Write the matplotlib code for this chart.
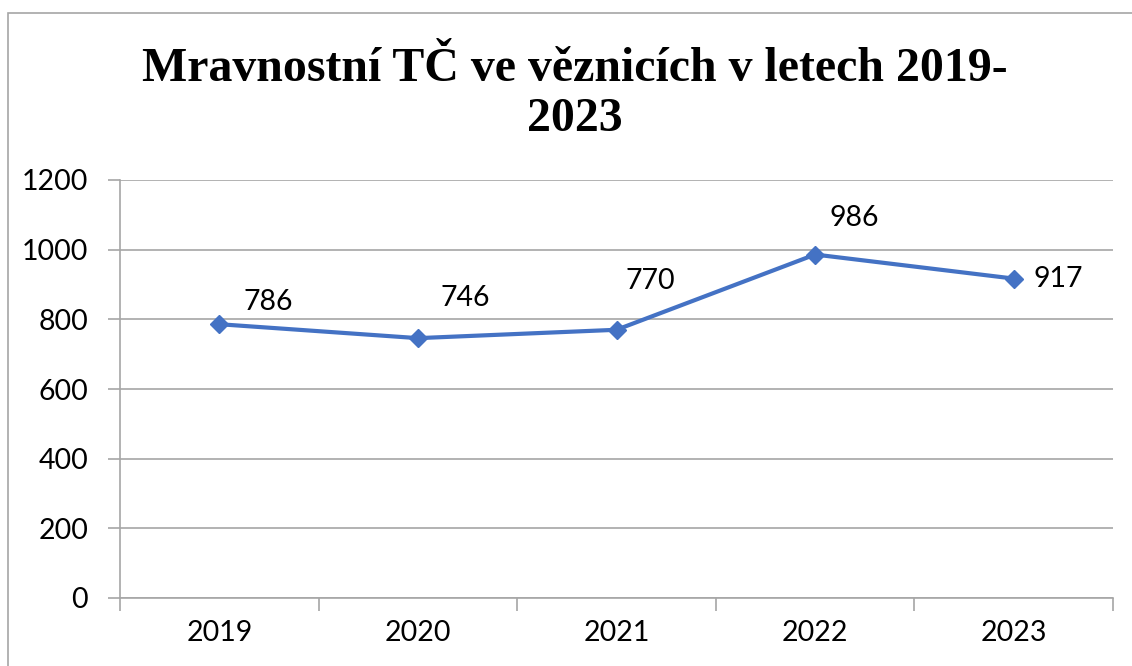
import matplotlib
matplotlib.use("Agg")
import matplotlib.pyplot as plt
from matplotlib.patches import Rectangle

years = ["2019", "2020", "2021", "2022", "2023"]
values = [786, 746, 770, 986, 917]
label_offsets = [(49, 22), (47, 40), (34, 49), (39, 37), (45, 0)]  # pixels (right, up)
yticks = [0, 200, 400, 600, 800, 1000, 1200]

W, H = 1132, 666
fig = plt.figure(figsize=(W / 100, H / 100), dpi=100)
fig.patch.set_facecolor("white")

# outer border
fig.patches.append(Rectangle((8 / W, -0.1), 1.2, (666 - 13) / H + 0.1, transform=fig.transFigure,
                             fill=False, edgecolor="#A6A6A6", linewidth=1.2))

ax = fig.add_axes([120 / W, (H - 598) / H, (1113 - 120) / W, (598 - 180) / H])
x = list(range(len(years)))
ax.plot(x, values, color="#4472C4", linewidth=3, marker="D", markersize=9.5, zorder=3)

ax.set_xlim(-0.5, len(years) - 0.5)
ax.set_ylim(0, 1200)
ax.set_yticks(yticks)
ax.set_yticklabels([str(t) for t in yticks])
ax.yaxis.grid(True, color="#A6A6A6", linewidth=1.2)
ax.set_axisbelow(True)
for s in ["top", "right"]:
    ax.spines[s].set_visible(False)
ax.spines["left"].set_color("#A6A6A6")
ax.spines["bottom"].set_color("#A6A6A6")
ax.spines["left"].set_linewidth(1.2)
ax.spines["bottom"].set_linewidth(1.2)

ax.set_xticks(x)
ax.set_xticklabels(years)
ax.tick_params(axis="x", length=0, pad=16, labelsize=20.5, colors="black")
ax.set_xticks([i - 0.5 for i in range(len(years) + 1)], minor=True)
ax.tick_params(axis="x", which="minor", length=9, color="#A6A6A6", width=1.2)
ax.tick_params(axis="y", length=9, color="#A6A6A6", width=1.2, pad=14, labelsize=20.5, labelcolor="black")
for lbl in ax.get_xticklabels() + ax.get_yticklabels():
    lbl.set_fontfamily("Lato")

for xi, v, (dx, dy) in zip(x, values, label_offsets):
    ax.annotate(str(v), (xi, v), xytext=(dx * 0.72, dy * 0.72), textcoords="offset points",
                ha="center", va="center", fontsize=20.5, family="Lato", color="black")

fig.text(575 / W, 1 - 94 / H, "Mravnostní TČ ve věznicích v letech 2019-\n2023",
         ha="center", va="center", fontsize=34.5, fontweight="bold", family="Liberation Serif",
         linespacing=1.2)

fig.savefig("out.png", dpi=100)
